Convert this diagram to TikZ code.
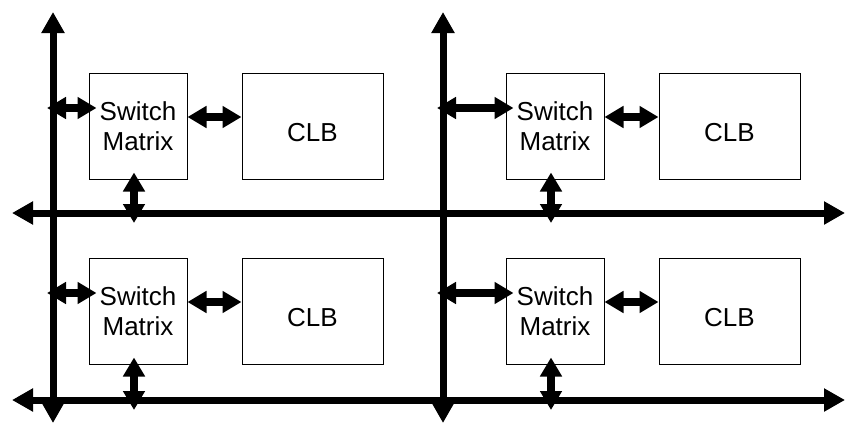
\documentclass[tikz,border=0pt]{standalone}
\usepackage{fontspec}
\setmainfont{Liberation Sans}
\usetikzlibrary{arrows.meta, positioning, calc}

\tikzset{
    blk/.style={draw, line width=1pt, inner sep=0pt, align=center,
        font=\fontsize{26}{30}\selectfont},
    smbox/.style={blk, minimum width=98pt, minimum height=106pt},
    clbbox/.style={blk, minimum width=141pt, minimum height=106pt},
    bus/.style={line width=7pt,
        {Triangle[length=21pt,width=22pt]}-{Triangle[length=21pt,width=22pt]}},
    link/.style={line width=8pt,
        {Triangle[length=19pt,width=21pt]}-{Triangle[length=19pt,width=21pt]}}
}

\begin{document}
\begin{tikzpicture}[x=1pt, y=1pt]
    \useasboundingbox (0, 0) rectangle (845, -423);

    % routing channels
    \coordinate (v1t) at (53, -12);
    \coordinate (v1b) at (53, -423);
    \coordinate (v2t) at (443, -12);
    \coordinate (v2b) at (443, -423);
    \coordinate (h1l) at (12, -213);
    \coordinate (h1r) at (845, -213);
    \coordinate (h2l) at (12, -400);
    \coordinate (h2r) at (845, -400);

    \draw[bus] (v1t) -- (v1b);
    \draw[bus] (v2t) -- (v2b);
    \draw[bus] (h1l) -- (h1r);
    \draw[bus] (h2l) -- (h2r);

    % tiles
    \foreach \i/\x/\y/\v/\h in {1/0/0/v1t/h1l, 2/417/0/v2t/h1l,
                                3/0/-185/v1t/h2l, 4/417/-185/v2t/h2l} {
        \node[smbox] (sm\i) at (138+\x, -126+\y) {Switch\\Matrix};
        \node[clbbox, right=54pt of sm\i] (clb\i) {\raisebox{-6pt}[\height][0pt]{CLB}};

        \draw[link] ([yshift=9pt]sm\i.east) -- ([yshift=9pt]clb\i.west);
        \draw[link] ($(\v |- sm\i.west)+(-6, 18)$) -- ($(sm\i.west)+(8, 18)$);
        \draw[link] ($(sm\i.south)+(-4, 7)$) -- ($(sm\i.south |- \h)+(-4, -10)$);
    }
\end{tikzpicture}
\end{document}
